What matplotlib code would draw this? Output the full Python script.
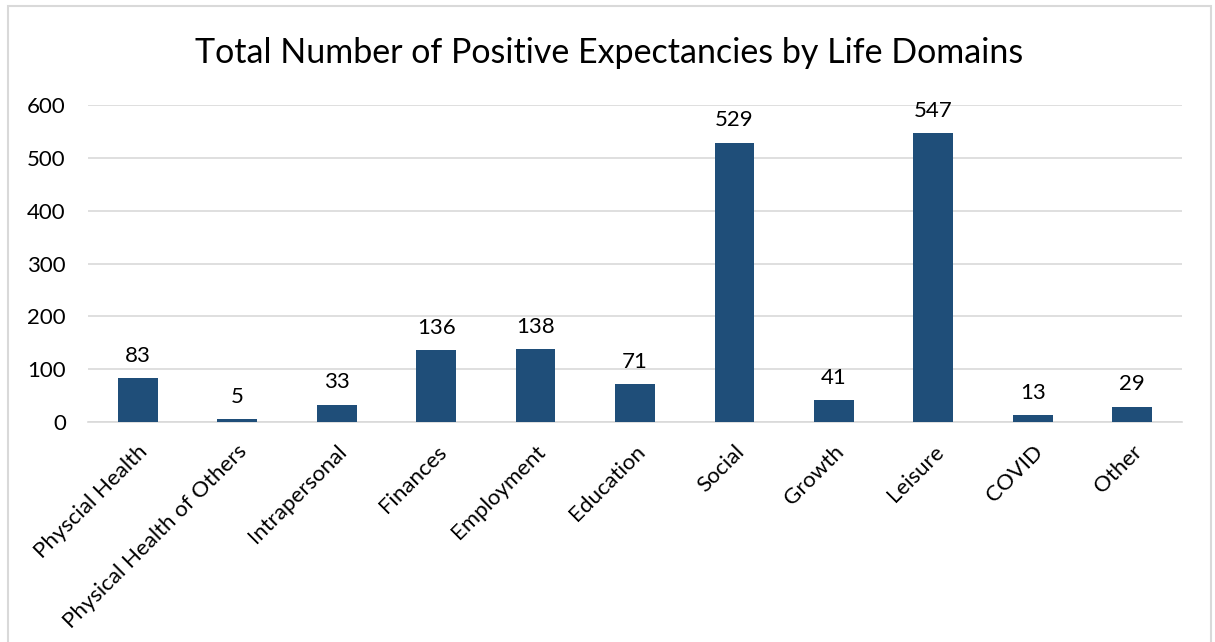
import numpy as np
import matplotlib as mpl
import matplotlib.pyplot as plt
from matplotlib.patches import Rectangle

categories = ['Physcial Health', 'Physical Health of Others', 'Intrapersonal', 'Finances',
              'Employment', 'Education', 'Social', 'Growth', 'Leisure', 'COVID', 'Other']
counts = [83, 5, 33, 136, 138, 71, 529, 41, 547, 13, 29]
yticks = [0, 100, 200, 300, 400, 500, 600]

mpl.rcParams['font.family'] = ['Lato', 'DejaVu Sans']

W, H = 1215, 642
fig = plt.figure(figsize=(W / 100, H / 100), dpi=100)
ax = fig.add_axes([88 / W, 1 - 422 / H, (1182 - 88) / W, (422 - 105) / H])

# chart border
fig.patches.append(Rectangle((8 / W, -0.02), (1211 - 8) / W, 1 - 6 / H + 0.02,
                             transform=fig.transFigure, fill=False,
                             edgecolor='#d9d9d9', lw=1.5))

x = np.arange(len(categories))
ax.bar(x, counts, width=0.4, color='#1f4e79', zorder=3)
for xi, v in zip(x, counts):
    ax.annotate(str(v), (xi, v), xytext=(0, 9), textcoords='offset points',
                ha='center', va='bottom', fontsize=16)

ax.set_xlim(-0.5, len(categories) - 0.5)
ax.set_ylim(0, 600)
ax.set_yticks(yticks)
ax.tick_params(axis='y', length=0, labelsize=16, pad=16)
ax.set_xticks(x)
ax.set_xticklabels(categories, rotation=45, ha='right', rotation_mode='anchor', fontsize=16)
ax.tick_params(axis='x', length=0, pad=14)
ax.grid(axis='y', color='#d9d9d9', lw=1.2, zorder=0)
for s in ['top', 'right', 'left']:
    ax.spines[s].set_visible(False)
ax.spines['bottom'].set_color('#d9d9d9')
ax.spines['bottom'].set_linewidth(1.2)

fig.text(609 / W, 1 - 53 / H, 'Total Number of Positive Expectancies by Life Domains',
         ha='center', va='center', fontsize=24.5)

fig.savefig('out.png', dpi=100)
